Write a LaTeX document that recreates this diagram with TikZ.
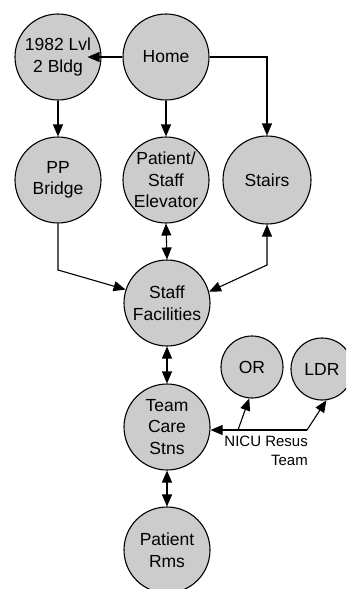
\documentclass[tikz,border=0pt]{standalone}
\usepackage{fontspec}
\setmainfont{Liberation Sans}
\usetikzlibrary{arrows.meta}
\begin{document}
\begin{tikzpicture}[x=1pt,y=-1pt,
  place/.style={circle,draw=black,line width=1.1pt,fill=black!20,inner sep=0pt,
    minimum size=86pt,align=center,font=\fontsize{17.5}{21.5}\selectfont},
  smallplace/.style={place,minimum size=62pt},
  flow/.style={line width=1.1pt,-{Triangle[length=12pt,width=10pt]}},
  twoway/.style={line width=1.1pt,{Triangle[length=12pt,width=10pt]}-{Triangle[length=12pt,width=10pt]}}]
  \useasboundingbox (0,0) rectangle (346,589);
  \clip (0,0) rectangle (346,589);

  % places
  \node[place] (bldg)   at (58,57)   {1982 Lvl\\2 Bldg};
  \node[place] (home)   at (166,57)  {Home};
  \node[place] (bridge) at (58,180)  {PP\\Bridge};
  \node[place] (elev)   at (166,180) {Patient/\\Staff\\Elevator};
  \node[place,minimum size=88pt] (stairs) at (267,180) {Stairs};
  \node[place] (staff)  at (167,303) {Staff\\Facilities};
  \node[place] (tcs)    at (167,427) {Team\\Care\\Stns};
  \node[place] (rms)    at (167,550) {Patient\\Rms};
  \node[smallplace] (or)  at (252,367) {OR};
  \node[smallplace] (ldr) at (322,369) {LDR};

  % bend points
  \coordinate (pbend) at (58,270);
  \coordinate (sbend) at (267,265);
  \coordinate (nbend) at (307,430);
  \coordinate (nsplit) at (238,430);

  % routes from home
  \draw[flow] (home.west) -- ([xshift=-14pt]bldg.east);
  \draw[flow] (home.south) -- (elev.north);
  \draw[flow] (home.east) -| (stairs.north);
  \draw[flow] (bldg.south) -- (bridge.north);

  % into staff facilities
  \draw[flow] (bridge.south) -- (pbend) -- (staff.162);
  \draw[twoway] (elev.south) -- (staff.north);
  \draw[twoway] (stairs.south) -- (sbend) -- (staff.15);

  % down to the patient rooms
  \draw[twoway] (staff.south) -- (tcs.north);
  \draw[twoway] (tcs.south) -- (rms.north);

  % resuscitation team routes
  \draw[flow] (nbend) -- (tcs.east |- nbend);
  \draw[flow] (nbend) -- (ldr.-82);
  \draw[flow] (nsplit) -- (or.-95);
  \node[anchor=north east,align=right,inner sep=0pt,font=\fontsize{15}{19}\selectfont]
    (nicu) at (308,436) {NICU Resus\\Team};
\end{tikzpicture}
\end{document}
